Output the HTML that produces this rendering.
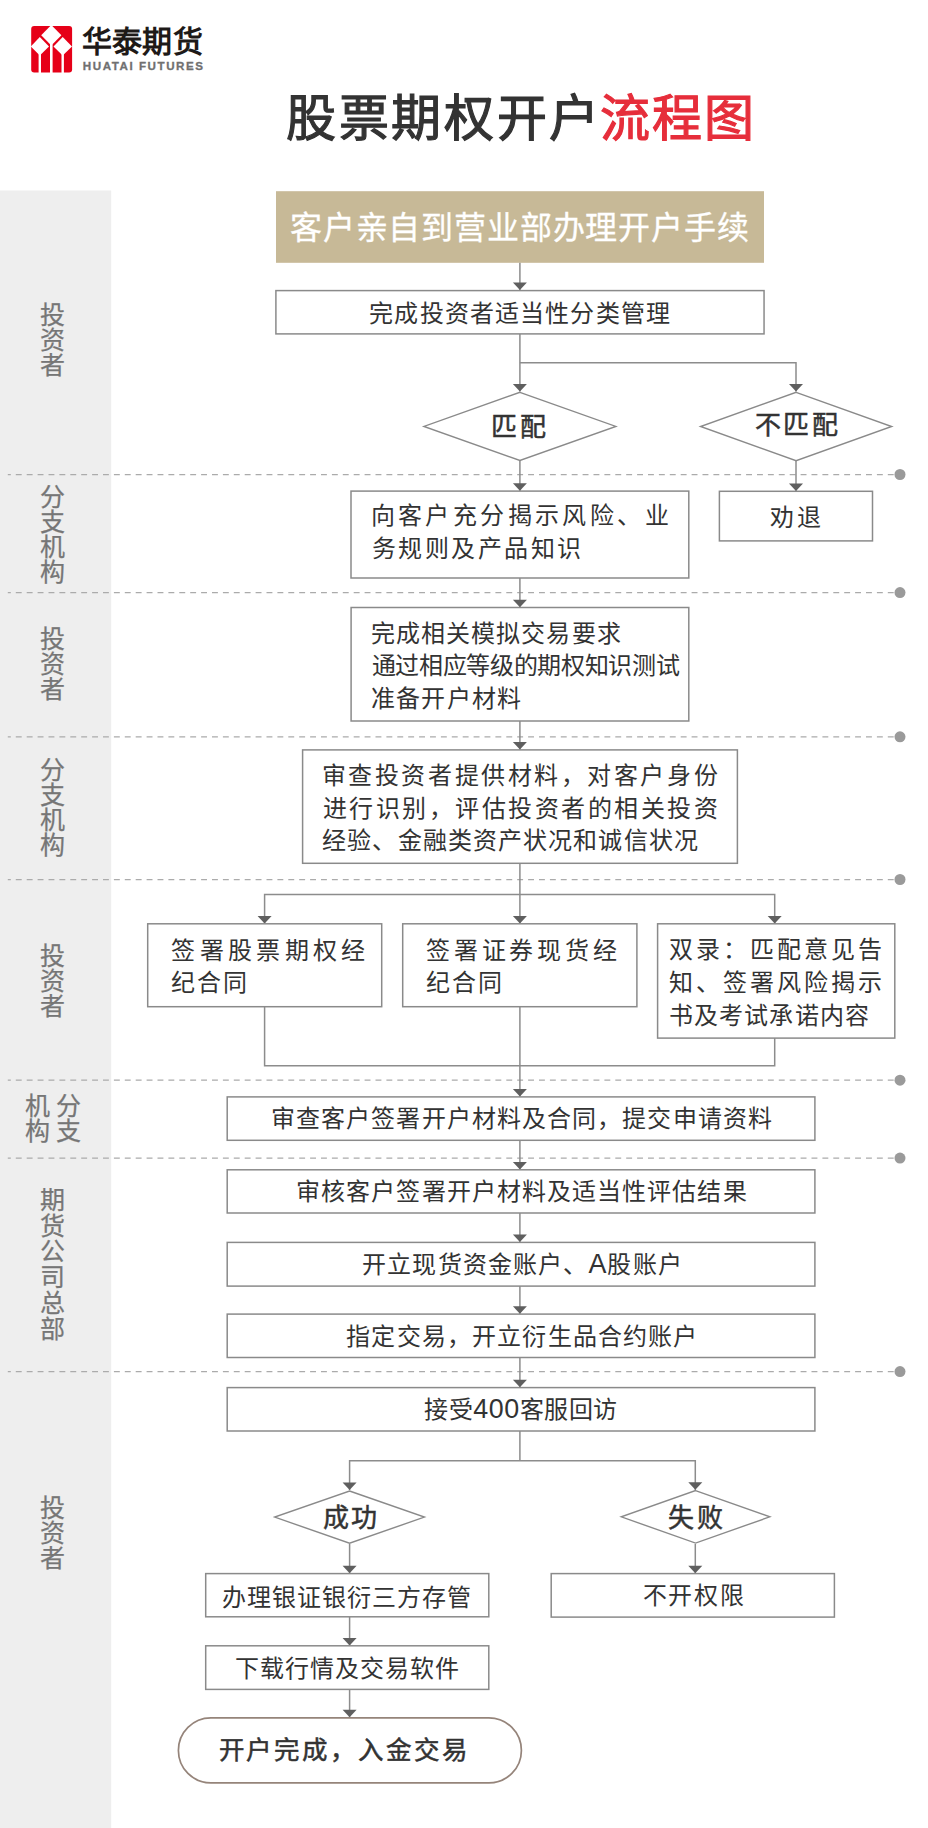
<!DOCTYPE html>
<html lang="zh-CN"><head><meta charset="utf-8"><title>股票期权开户流程图</title>
<style>
html,body{margin:0;padding:0;background:#fff;}
body{width:928px;height:1828px;position:relative;overflow:hidden;font-family:"Liberation Sans",sans-serif;}
.t{position:absolute;white-space:nowrap;}
.lat{font-size:1.12em;line-height:0;}
.vl{position:absolute;color:#767676;text-align:center;-webkit-text-stroke:0.25px #767676;}
svg.main{position:absolute;left:0;top:0;}
.en{position:absolute;left:82.8px;top:60.3px;font-size:11.6px;line-height:12px;font-weight:700;color:#707070;-webkit-text-stroke:0.3px #707070;letter-spacing:1.55px;white-space:nowrap;}
</style></head><body>
<svg class="main" width="928" height="1828" viewBox="0 0 928 1828">
<rect x="0" y="190.5" width="111.2" height="1638" fill="#eeeeee"/>
<line x1="7.8" y1="474.5" x2="894" y2="474.5" stroke="#ababab" stroke-width="1.25" stroke-dasharray="5.9 5" stroke-dashoffset="2.9"/>
<circle cx="900" cy="474.5" r="5.5" fill="#9a9a9a"/>
<line x1="7.8" y1="592.6" x2="894" y2="592.6" stroke="#ababab" stroke-width="1.25" stroke-dasharray="5.9 5" stroke-dashoffset="2.9"/>
<circle cx="900" cy="592.6" r="5.5" fill="#9a9a9a"/>
<line x1="7.8" y1="736.8" x2="894" y2="736.8" stroke="#ababab" stroke-width="1.25" stroke-dasharray="5.9 5" stroke-dashoffset="2.9"/>
<circle cx="900" cy="736.8" r="5.5" fill="#9a9a9a"/>
<line x1="7.8" y1="879.5" x2="894" y2="879.5" stroke="#ababab" stroke-width="1.25" stroke-dasharray="5.9 5" stroke-dashoffset="2.9"/>
<circle cx="900" cy="879.5" r="5.5" fill="#9a9a9a"/>
<line x1="7.8" y1="1080.2" x2="894" y2="1080.2" stroke="#ababab" stroke-width="1.25" stroke-dasharray="5.9 5" stroke-dashoffset="2.9"/>
<circle cx="900" cy="1080.2" r="5.5" fill="#9a9a9a"/>
<line x1="7.8" y1="1158.1" x2="894" y2="1158.1" stroke="#ababab" stroke-width="1.25" stroke-dasharray="5.9 5" stroke-dashoffset="2.9"/>
<circle cx="900" cy="1158.1" r="5.5" fill="#9a9a9a"/>
<line x1="7.8" y1="1371.6" x2="894" y2="1371.6" stroke="#ababab" stroke-width="1.25" stroke-dasharray="5.9 5" stroke-dashoffset="2.9"/>
<circle cx="900" cy="1371.6" r="5.5" fill="#9a9a9a"/>
<rect x="276" y="191.2" width="488" height="71.6" fill="#c7b997"/>
<polyline points="519.9,262.8 519.9,290.6" fill="none" stroke="#8c8c8c" stroke-width="1.5"/>
<polygon points="512.9,282.5 526.9,282.5 519.9,290" fill="#5f5f5f"/>
<polyline points="519.9,333.9 519.9,391.5" fill="none" stroke="#8c8c8c" stroke-width="1.5"/>
<polygon points="512.9,384.0 526.9,384.0 519.9,391.5" fill="#5f5f5f"/>
<polyline points="519.9,362.7 796,362.7 796,391.5" fill="none" stroke="#8c8c8c" stroke-width="1.5"/>
<polygon points="789,384.0 803,384.0 796,391.5" fill="#5f5f5f"/>
<polyline points="519.9,461 519.9,491.1" fill="none" stroke="#8c8c8c" stroke-width="1.5"/>
<polygon points="512.9,483.3 526.9,483.3 519.9,490.8" fill="#5f5f5f"/>
<polyline points="796,461 796,491.3" fill="none" stroke="#8c8c8c" stroke-width="1.5"/>
<polygon points="789,483.5 803,483.5 796,491" fill="#5f5f5f"/>
<polyline points="519.9,578 519.9,607.5" fill="none" stroke="#8c8c8c" stroke-width="1.5"/>
<polygon points="512.9,599.7 526.9,599.7 519.9,607.2" fill="#5f5f5f"/>
<polyline points="519.9,721 519.9,749.9" fill="none" stroke="#8c8c8c" stroke-width="1.5"/>
<polygon points="512.9,742.1 526.9,742.1 519.9,749.6" fill="#5f5f5f"/>
<polyline points="519.9,863.3 519.9,923.8" fill="none" stroke="#8c8c8c" stroke-width="1.5"/>
<polyline points="264.6,923.8 264.6,894.4 774.7,894.4 774.7,923.8" fill="none" stroke="#8c8c8c" stroke-width="1.5"/>
<polygon points="257.6,916.0 271.6,916.0 264.6,923.5" fill="#5f5f5f"/>
<polygon points="512.9,916.0 526.9,916.0 519.9,923.5" fill="#5f5f5f"/>
<polygon points="767.7,916.0 781.7,916.0 774.7,923.5" fill="#5f5f5f"/>
<polyline points="264.6,1006.7 264.6,1065.8 774.7,1065.8 774.7,1038.1" fill="none" stroke="#8c8c8c" stroke-width="1.5"/>
<polyline points="519.9,1006.7 519.9,1096.9" fill="none" stroke="#8c8c8c" stroke-width="1.5"/>
<polygon points="512.9,1089.1 526.9,1089.1 519.9,1096.6" fill="#5f5f5f"/>
<polyline points="519.9,1140.3 519.9,1169.8" fill="none" stroke="#8c8c8c" stroke-width="1.5"/>
<polygon points="512.9,1162.0 526.9,1162.0 519.9,1169.5" fill="#5f5f5f"/>
<polyline points="519.9,1213 519.9,1242.4" fill="none" stroke="#8c8c8c" stroke-width="1.5"/>
<polygon points="512.9,1234.6 526.9,1234.6 519.9,1242.1" fill="#5f5f5f"/>
<polyline points="519.9,1286.1 519.9,1314.1" fill="none" stroke="#8c8c8c" stroke-width="1.5"/>
<polygon points="512.9,1306.3 526.9,1306.3 519.9,1313.8" fill="#5f5f5f"/>
<polyline points="519.9,1357.5 519.9,1387.6" fill="none" stroke="#8c8c8c" stroke-width="1.5"/>
<polygon points="512.9,1379.8 526.9,1379.8 519.9,1387.3" fill="#5f5f5f"/>
<polyline points="519.9,1431 519.9,1460.7" fill="none" stroke="#8c8c8c" stroke-width="1.5"/>
<polyline points="349.6,1490 349.6,1460.7 695.3,1460.7 695.3,1490" fill="none" stroke="#8c8c8c" stroke-width="1.5"/>
<polygon points="342.6,1482.5 356.6,1482.5 349.6,1490" fill="#5f5f5f"/>
<polygon points="688.3,1482.2 702.3,1482.2 695.3,1489.7" fill="#5f5f5f"/>
<polyline points="349.6,1544 349.6,1573.6" fill="none" stroke="#8c8c8c" stroke-width="1.5"/>
<polygon points="342.6,1565.8 356.6,1565.8 349.6,1573.3" fill="#5f5f5f"/>
<polyline points="695.3,1544 695.3,1573.6" fill="none" stroke="#8c8c8c" stroke-width="1.5"/>
<polygon points="688.3,1565.8 702.3,1565.8 695.3,1573.3" fill="#5f5f5f"/>
<polyline points="349.6,1616.8 349.6,1645.8" fill="none" stroke="#8c8c8c" stroke-width="1.5"/>
<polygon points="342.6,1638.0 356.6,1638.0 349.6,1645.5" fill="#5f5f5f"/>
<polyline points="349.6,1689.4 349.6,1717.9" fill="none" stroke="#8c8c8c" stroke-width="1.5"/>
<polygon points="342.6,1709.7 356.6,1709.7 349.6,1717.2" fill="#5f5f5f"/>
<rect x="275.9" y="290.6" width="488.15" height="43.30" fill="#fff" stroke="#8a8a8a" stroke-width="1.5"/>
<polygon points="519.9,392.34999999999997 615.8499999999999,426.4 519.9,460.45 423.95,426.4" fill="#fff" stroke="#8a8a8a" stroke-width="1.4"/>
<polygon points="796.1,392.35 891.65,426.5 796.1,460.65 700.5500000000001,426.5" fill="#fff" stroke="#8a8a8a" stroke-width="1.4"/>
<rect x="351.0" y="491.1" width="337.80" height="86.90" fill="#fff" stroke="#8a8a8a" stroke-width="1.5"/>
<rect x="719.4" y="491.3" width="153.10" height="49.60" fill="#fff" stroke="#8a8a8a" stroke-width="1.5"/>
<rect x="351.1" y="607.5" width="337.70" height="113.50" fill="#fff" stroke="#8a8a8a" stroke-width="1.5"/>
<rect x="302.6" y="749.9" width="434.80" height="113.40" fill="#fff" stroke="#8a8a8a" stroke-width="1.5"/>
<rect x="147.7" y="923.8" width="234.00" height="82.90" fill="#fff" stroke="#8a8a8a" stroke-width="1.5"/>
<rect x="402.7" y="923.8" width="234.20" height="82.90" fill="#fff" stroke="#8a8a8a" stroke-width="1.5"/>
<rect x="657.6" y="923.8" width="237.20" height="114.30" fill="#fff" stroke="#8a8a8a" stroke-width="1.5"/>
<rect x="227.2" y="1096.9" width="587.70" height="43.40" fill="#fff" stroke="#8a8a8a" stroke-width="1.5"/>
<rect x="227.2" y="1169.8" width="587.70" height="43.20" fill="#fff" stroke="#8a8a8a" stroke-width="1.5"/>
<rect x="227.2" y="1242.4" width="587.70" height="43.70" fill="#fff" stroke="#8a8a8a" stroke-width="1.5"/>
<rect x="227.2" y="1314.1" width="587.70" height="43.40" fill="#fff" stroke="#8a8a8a" stroke-width="1.5"/>
<rect x="227.2" y="1387.6" width="587.70" height="43.40" fill="#fff" stroke="#8a8a8a" stroke-width="1.5"/>
<polygon points="349.55,1491.0 424.4,1517.1 349.55,1543.1999999999998 274.70000000000005,1517.1" fill="#fff" stroke="#8a8a8a" stroke-width="1.4"/>
<polygon points="695.55,1490.6 769.8,1516.85 695.55,1543.1 621.3,1516.85" fill="#fff" stroke="#8a8a8a" stroke-width="1.4"/>
<rect x="205.7" y="1573.6" width="283.10" height="43.20" fill="#fff" stroke="#8a8a8a" stroke-width="1.5"/>
<rect x="551.2" y="1573.6" width="283.20" height="43.50" fill="#fff" stroke="#8a8a8a" stroke-width="1.5"/>
<rect x="205.7" y="1645.8" width="283.10" height="43.60" fill="#fff" stroke="#8a8a8a" stroke-width="1.5"/>
<rect x="178.4" y="1717.9" width="343" height="65" rx="32.5" fill="#fff" stroke="#95847a" stroke-width="1.7"/>
</svg>
<svg class="logo" width="80" height="80" viewBox="0 0 80 80" style="position:absolute;left:0;top:0">
<rect x="31.2" y="26" width="40.9" height="46.6" rx="3" fill="#e60018"/>
<g fill="#fff">
<polygon points="51.3,25.0 41.2,35.2 51.3,45.4 61.4,35.2"/>
<polygon points="39.8,36.9 30.8,46.6 39.8,55.6 49.0,46.6"/>
<polygon points="62.7,36.9 53.5,46.6 62.7,55.6 72.0,46.6"/>
<rect x="50" y="44" width="2.6" height="29"/>
<rect x="38.6" y="54" width="2.4" height="19"/>
<rect x="61.5" y="54" width="2.4" height="19"/>
</g></svg>
<div class="en">HUATAI FUTURES</div>
<div class="vl" style="left:40.2px;top:302.80px;font-size:25px;line-height:25px;width:25px">投<br>资<br>者</div>
<div class="vl" style="left:40.2px;top:485.30px;font-size:25px;line-height:25px;width:25px">分<br>支<br>机<br>构</div>
<div class="vl" style="left:40.2px;top:626.50px;font-size:25px;line-height:25px;width:25px">投<br>资<br>者</div>
<div class="vl" style="left:40.2px;top:757.50px;font-size:25px;line-height:25px;width:25px">分<br>支<br>机<br>构</div>
<div class="vl" style="left:40.2px;top:943.50px;font-size:25px;line-height:25px;width:25px">投<br>资<br>者</div>
<div class="vl" style="left:40.2px;top:1188.00px;font-size:25px;line-height:25.7px;width:25px">期<br>货<br>公<br>司<br>总<br>部</div>
<div class="vl" style="left:40.2px;top:1495.80px;font-size:25px;line-height:25px;width:25px">投<br>资<br>者</div>
<div class="vl" style="left:56px;top:1094px;font-size:25px;line-height:25px;width:25px">分<br>支</div>
<div class="vl" style="left:24.8px;top:1094px;font-size:25px;line-height:25px;width:25px">机<br>构</div>
<div class="t" id="title1" style="left:286.20px;top:94.40px;font-size:50px;line-height:50px;letter-spacing:2.632px;font-weight:400;color:#333333;-webkit-text-stroke:1.2px #333333">股票期权开户</div>
<div class="t" id="title2" style="left:600.00px;top:94.40px;font-size:50px;line-height:50px;letter-spacing:2.240px;font-weight:400;color:#e62e3b;-webkit-text-stroke:1.2px #e62e3b">流程图</div>
<div class="t" id="logo1" style="left:82.00px;top:26.90px;font-size:30px;line-height:30px;letter-spacing:0.187px;font-weight:900;color:#1e1a18">华泰期货</div>
<div class="t" id="gold" style="left:289.94px;top:211.55px;font-size:32px;line-height:32px;letter-spacing:0.829px;font-weight:400;color:#ffffff;-webkit-text-stroke:0.3px #ffffff">客户亲自到营业部办理开户手续</div>
<div class="t" id="b2" style="left:369.28px;top:302.20px;font-size:24px;line-height:24px;letter-spacing:1.145px;font-weight:400;color:#333333">完成投资者适当性分类管理</div>
<div class="t" id="d1" style="left:491.19px;top:413.50px;font-size:26px;line-height:26px;letter-spacing:2.800px;font-weight:400;color:#333333;-webkit-text-stroke:0.5px #333333">匹配</div>
<div class="t" id="d2" style="left:754.79px;top:411.90px;font-size:26px;line-height:26px;letter-spacing:2.450px;font-weight:400;color:#333333;-webkit-text-stroke:0.5px #333333">不匹配</div>
<div class="t" id="qt" style="left:770.18px;top:505.50px;font-size:24px;line-height:24px;letter-spacing:3.150px;font-weight:400;color:#333333">劝退</div>
<div class="t" id="b3a" style="left:370.68px;top:504.30px;font-size:24px;line-height:24px;letter-spacing:3.388px;font-weight:400;color:#333333">向客户充分揭示风险、业</div>
<div class="t" id="b3b" style="left:371.78px;top:537.10px;font-size:24px;line-height:24px;letter-spacing:2.500px;font-weight:400;color:#333333">务规则及产品知识</div>
<div class="t" id="b4a" style="left:370.98px;top:622.20px;font-size:24px;line-height:24px;letter-spacing:1.073px;font-weight:400;color:#333333">完成相关模拟交易要求</div>
<div class="t" id="b4b" style="left:371.78px;top:654.20px;font-size:24px;line-height:24px;letter-spacing:-0.350px;font-weight:400;color:#333333">通过相应等级的期权知识测试</div>
<div class="t" id="b4c" style="left:371.28px;top:686.60px;font-size:24px;line-height:24px;letter-spacing:1.092px;font-weight:400;color:#333333">准备开户材料</div>
<div class="t" id="b5a" style="left:321.78px;top:763.70px;font-size:24px;line-height:24px;letter-spacing:2.555px;font-weight:400;color:#333333">审查投资者提供材料，对客户身份</div>
<div class="t" id="b5b" style="left:322.58px;top:796.80px;font-size:24px;line-height:24px;letter-spacing:2.520px;font-weight:400;color:#333333">进行识别，评估投资者的相关投资</div>
<div class="t" id="b5c" style="left:322.28px;top:829.40px;font-size:24px;line-height:24px;letter-spacing:1.110px;font-weight:400;color:#333333">经验、金融类资产状况和诚信状况</div>
<div class="t" id="b6a1" style="left:171.18px;top:939.30px;font-size:24px;line-height:24px;letter-spacing:4.340px;font-weight:400;color:#333333">签署股票期权经</div>
<div class="t" id="b6a2" style="left:171.18px;top:970.70px;font-size:24px;line-height:24px;letter-spacing:2.100px;font-weight:400;color:#333333">纪合同</div>
<div class="t" id="b6b1" style="left:426.18px;top:938.60px;font-size:24px;line-height:24px;letter-spacing:3.733px;font-weight:400;color:#333333">签署证券现货经</div>
<div class="t" id="b6b2" style="left:426.18px;top:970.60px;font-size:24px;line-height:24px;letter-spacing:2.100px;font-weight:400;color:#333333">纪合同</div>
<div class="t" id="b6c1" style="left:668.68px;top:937.60px;font-size:24px;line-height:24px;letter-spacing:3.060px;font-weight:400;color:#333333">双录：匹配意见告</div>
<div class="t" id="b6c2" style="left:668.68px;top:970.90px;font-size:24px;line-height:24px;letter-spacing:3.060px;font-weight:400;color:#333333">知、签署风险揭示</div>
<div class="t" id="b6c3" style="left:668.68px;top:1003.50px;font-size:24px;line-height:24px;letter-spacing:1.180px;font-weight:400;color:#333333">书及考试承诺内容</div>
<div class="t" id="b7" style="left:270.88px;top:1107.30px;font-size:24px;line-height:24px;letter-spacing:1.105px;font-weight:400;color:#333333">审查客户签署开户材料及合同，提交申请资料</div>
<div class="t" id="b8" style="left:296.08px;top:1180.20px;font-size:24px;line-height:24px;letter-spacing:1.087px;font-weight:400;color:#333333">审核客户签署开户材料及适当性评估结果</div>
<div class="t" id="b9" style="left:362.18px;top:1253.40px;font-size:24px;line-height:24px;letter-spacing:1.132px;font-weight:400;color:#333333">开立现货资金账户、<span class="lat">A</span>股账户</div>
<div class="t" id="b10" style="left:346.28px;top:1325.20px;font-size:24px;line-height:24px;letter-spacing:1.163px;font-weight:400;color:#333333">指定交易，开立衍生品合约账户</div>
<div class="t" id="b11" style="left:424.08px;top:1398.10px;font-size:24px;line-height:24px;letter-spacing:0.543px;font-weight:400;color:#333333">接受<span class="lat">400</span>客服回访</div>
<div class="t" id="d3" style="left:322.69px;top:1504.90px;font-size:26px;line-height:26px;letter-spacing:2.380px;font-weight:400;color:#333333;-webkit-text-stroke:0.5px #333333">成功</div>
<div class="t" id="d4" style="left:667.89px;top:1504.90px;font-size:26px;line-height:26px;letter-spacing:3.080px;font-weight:400;color:#333333;-webkit-text-stroke:0.5px #333333">失败</div>
<div class="t" id="b12" style="left:222.18px;top:1586.30px;font-size:24px;line-height:24px;letter-spacing:0.964px;font-weight:400;color:#333333">办理银证银衍三方存管</div>
<div class="t" id="b14" style="left:642.88px;top:1584.30px;font-size:24px;line-height:24px;letter-spacing:1.587px;font-weight:400;color:#333333">不开权限</div>
<div class="t" id="b13" style="left:234.88px;top:1656.90px;font-size:24px;line-height:24px;letter-spacing:1.033px;font-weight:400;color:#333333">下载行情及交易软件</div>
<div class="t" id="pill" style="left:218.62px;top:1738.40px;font-size:25.5px;line-height:25.5px;letter-spacing:1.872px;font-weight:400;color:#333333;-webkit-text-stroke:0.5px #333333">开户完成，入金交易</div>
</body></html>
